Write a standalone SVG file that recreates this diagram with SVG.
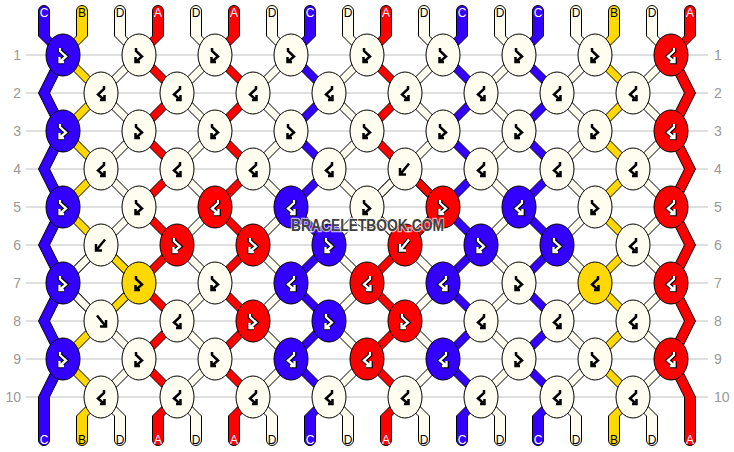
<svg xmlns="http://www.w3.org/2000/svg" xmlns:xlink="http://www.w3.org/1999/xlink" width="734" height="452" viewBox="0 0 734 452">
<style>
.grid{stroke:#c0c0c0;stroke-width:1}
.num{font-family:"Liberation Sans",Arial,sans-serif;font-size:14px;fill:#999}
.s{stroke:#000;stroke-width:1;stroke-linejoin:miter}
.sA{fill:#ff0000}.sB{fill:#ffd800}.sC{fill:#3300ff}.sD{fill:#fffcf0}
.k{stroke:#000;stroke-width:1}
.kA{fill:#ff0000}.kB{fill:#ffd800}.kC{fill:#3300ff}.kD{fill:#fffcf0}
.gb{fill:none;stroke:#000;stroke-width:2.5}
.go{fill:none;stroke:#000;stroke-width:4.6}
.gw{fill:none;stroke:#fff;stroke-width:2.3}
.lab{font-family:"Liberation Sans",Arial,sans-serif;font-size:12px;text-anchor:middle}
.lw{fill:#fff}.lk{fill:#000}
.wm{font-family:"Liberation Sans",Arial,sans-serif;font-weight:bold;font-size:17px;fill:#404040;stroke:#ffffff;stroke-opacity:0.7;stroke-width:2.5;paint-order:stroke}
</style>
<defs>
<path id="LO" d="M-5.5,11A5.5,5.5 0 0 1 5.5,11L5.5,36L24.5,55L-13.5,93L24.5,131L-13.5,169L24.5,207L-13.5,245L24.5,283L-13.5,321L24.5,359L-13.5,397L5.5,416L5.5,440A5.5,5.5 0 0 1 -5.5,440L-5.5,416L-24.5,397L13.5,359L-24.5,321L13.5,283L-24.5,245L13.5,207L-24.5,169L13.5,131L-24.5,93L13.5,55L-5.5,36Z"/>
<path id="LE" d="M-5.5,11A5.5,5.5 0 0 1 5.5,11L5.5,36L-13.5,55L24.5,93L-13.5,131L24.5,169L-13.5,207L24.5,245L-13.5,283L24.5,321L-13.5,359L24.5,397L5.5,416L5.5,440A5.5,5.5 0 0 1 -5.5,440L-5.5,416L13.5,397L-24.5,359L13.5,321L-24.5,283L13.5,245L-24.5,207L13.5,169L-24.5,131L13.5,93L-24.5,55L-5.5,36Z"/>
<path id="L1" d="M-5.5,11A5.5,5.5 0 0 1 5.5,11L5.5,36L24.5,55L5.5,93L24.5,131L5.5,169L24.5,207L5.5,245L24.5,283L5.5,321L24.5,359L5.5,397L5.5,440A5.5,5.5 0 0 1 -5.5,440L-5.5,397L13.5,359L-5.5,321L13.5,283L-5.5,245L13.5,207L-5.5,169L13.5,131L-5.5,93L13.5,55L-5.5,36Z"/>
<path id="L18" d="M-5.5,11A5.5,5.5 0 0 1 5.5,11L5.5,36L-13.5,55L5.5,93L-13.5,131L5.5,169L-13.5,207L5.5,245L-13.5,283L5.5,321L-13.5,359L5.5,397L5.5,440A5.5,5.5 0 0 1 -5.5,440L-5.5,397L-24.5,359L-5.5,321L-24.5,283L-5.5,245L-24.5,207L-5.5,169L-24.5,131L-5.5,93L-24.5,55L-5.5,36Z"/>
<path id="gFB" d="M-3,-7V-4L3,1.5L-3.5,7M-3.5,2V7H1"/>
<path id="gBF" d="M3,-7V-4L-3,1.5L3.5,7M3.5,2V7H-1"/>
<path id="gF" d="M-4,-5.5L4.5,5M5,-1V5.5H-1"/>
<path id="gB" d="M4,-5.5L-4.5,5M-5,-1V5.5H1"/>
<ellipse id="E" rx="17" ry="21"/>
</defs>
<rect width="734" height="452" fill="#fff"/>
<g id="grid">
<line class="grid" x1="26" y1="55" x2="708" y2="55"/>
<line class="grid" x1="26" y1="93" x2="708" y2="93"/>
<line class="grid" x1="26" y1="131" x2="708" y2="131"/>
<line class="grid" x1="26" y1="169" x2="708" y2="169"/>
<line class="grid" x1="26" y1="207" x2="708" y2="207"/>
<line class="grid" x1="26" y1="245" x2="708" y2="245"/>
<line class="grid" x1="26" y1="283" x2="708" y2="283"/>
<line class="grid" x1="26" y1="321" x2="708" y2="321"/>
<line class="grid" x1="26" y1="359" x2="708" y2="359"/>
<line class="grid" x1="26" y1="397" x2="708" y2="397"/>
</g>
<g id="rownumbers">
<text class="num" x="21" y="60" text-anchor="end">1</text>
<text class="num" x="21" y="98" text-anchor="end">2</text>
<text class="num" x="21" y="136" text-anchor="end">3</text>
<text class="num" x="21" y="174" text-anchor="end">4</text>
<text class="num" x="21" y="212" text-anchor="end">5</text>
<text class="num" x="21" y="250" text-anchor="end">6</text>
<text class="num" x="21" y="288" text-anchor="end">7</text>
<text class="num" x="21" y="326" text-anchor="end">8</text>
<text class="num" x="21" y="364" text-anchor="end">9</text>
<text class="num" x="21" y="402" text-anchor="end">10</text>
<text class="num" x="714" y="60">1</text>
<text class="num" x="714" y="98">2</text>
<text class="num" x="714" y="136">3</text>
<text class="num" x="714" y="174">4</text>
<text class="num" x="714" y="212">5</text>
<text class="num" x="714" y="250">6</text>
<text class="num" x="714" y="288">7</text>
<text class="num" x="714" y="326">8</text>
<text class="num" x="714" y="364">9</text>
<text class="num" x="714" y="402">10</text>
</g>
<g id="connectors">
<use href="#L1" x="44" class="s sC"/>
<use href="#LE" x="82" class="s sB"/>
<use href="#LO" x="120" class="s sD"/>
<use href="#LE" x="158" class="s sA"/>
<use href="#LO" x="196" class="s sD"/>
<use href="#LE" x="234" class="s sA"/>
<use href="#LO" x="272" class="s sD"/>
<use href="#LE" x="310" class="s sC"/>
<use href="#LO" x="348" class="s sD"/>
<use href="#LE" x="386" class="s sA"/>
<use href="#LO" x="424" class="s sD"/>
<use href="#LE" x="462" class="s sC"/>
<use href="#LO" x="500" class="s sD"/>
<use href="#LE" x="538" class="s sC"/>
<use href="#LO" x="576" class="s sD"/>
<use href="#LE" x="614" class="s sB"/>
<use href="#LO" x="652" class="s sD"/>
<use href="#L18" x="690" class="s sA"/>
<path class="s sD" d="M95.5,245L57.5,283L95.5,321L106.5,321L68.5,283L106.5,245Z"/>
<path class="s sB" d="M95.5,245L133.5,283L95.5,321L106.5,321L144.5,283L106.5,245Z"/>
<path class="s sD" d="M399.5,169L361.5,207L399.5,245L410.5,245L372.5,207L410.5,169Z"/>
<path class="s sA" d="M399.5,169L437.5,207L399.5,245L410.5,245L448.5,207L410.5,169Z"/>
</g>
<g id="knots">
<g id="k1-1" transform="translate(63,55)"><use href="#E" class="k kC"/><use href="#gFB" class="go"/><use href="#gFB" class="gw"/></g>
<g id="k1-2" transform="translate(139,55)"><use href="#E" class="k kD"/><use href="#gFB" class="gb"/></g>
<g id="k1-3" transform="translate(215,55)"><use href="#E" class="k kD"/><use href="#gFB" class="gb"/></g>
<g id="k1-4" transform="translate(291,55)"><use href="#E" class="k kD"/><use href="#gFB" class="gb"/></g>
<g id="k1-5" transform="translate(367,55)"><use href="#E" class="k kD"/><use href="#gFB" class="gb"/></g>
<g id="k1-6" transform="translate(443,55)"><use href="#E" class="k kD"/><use href="#gFB" class="gb"/></g>
<g id="k1-7" transform="translate(519,55)"><use href="#E" class="k kD"/><use href="#gFB" class="gb"/></g>
<g id="k1-8" transform="translate(595,55)"><use href="#E" class="k kD"/><use href="#gFB" class="gb"/></g>
<g id="k1-9" transform="translate(671,55)"><use href="#E" class="k kA"/><use href="#gBF" class="go"/><use href="#gBF" class="gw"/></g>

<g id="k2-1" transform="translate(101,93)"><use href="#E" class="k kD"/><use href="#gBF" class="gb"/></g>
<g id="k2-2" transform="translate(177,93)"><use href="#E" class="k kD"/><use href="#gBF" class="gb"/></g>
<g id="k2-3" transform="translate(253,93)"><use href="#E" class="k kD"/><use href="#gBF" class="gb"/></g>
<g id="k2-4" transform="translate(329,93)"><use href="#E" class="k kD"/><use href="#gBF" class="gb"/></g>
<g id="k2-5" transform="translate(405,93)"><use href="#E" class="k kD"/><use href="#gBF" class="gb"/></g>
<g id="k2-6" transform="translate(481,93)"><use href="#E" class="k kD"/><use href="#gBF" class="gb"/></g>
<g id="k2-7" transform="translate(557,93)"><use href="#E" class="k kD"/><use href="#gBF" class="gb"/></g>
<g id="k2-8" transform="translate(633,93)"><use href="#E" class="k kD"/><use href="#gBF" class="gb"/></g>

<g id="k3-1" transform="translate(63,131)"><use href="#E" class="k kC"/><use href="#gFB" class="go"/><use href="#gFB" class="gw"/></g>
<g id="k3-2" transform="translate(139,131)"><use href="#E" class="k kD"/><use href="#gFB" class="gb"/></g>
<g id="k3-3" transform="translate(215,131)"><use href="#E" class="k kD"/><use href="#gFB" class="gb"/></g>
<g id="k3-4" transform="translate(291,131)"><use href="#E" class="k kD"/><use href="#gFB" class="gb"/></g>
<g id="k3-5" transform="translate(367,131)"><use href="#E" class="k kD"/><use href="#gFB" class="gb"/></g>
<g id="k3-6" transform="translate(443,131)"><use href="#E" class="k kD"/><use href="#gFB" class="gb"/></g>
<g id="k3-7" transform="translate(519,131)"><use href="#E" class="k kD"/><use href="#gFB" class="gb"/></g>
<g id="k3-8" transform="translate(595,131)"><use href="#E" class="k kD"/><use href="#gFB" class="gb"/></g>
<g id="k3-9" transform="translate(671,131)"><use href="#E" class="k kA"/><use href="#gBF" class="go"/><use href="#gBF" class="gw"/></g>

<g id="k4-1" transform="translate(101,169)"><use href="#E" class="k kD"/><use href="#gBF" class="gb"/></g>
<g id="k4-2" transform="translate(177,169)"><use href="#E" class="k kD"/><use href="#gBF" class="gb"/></g>
<g id="k4-3" transform="translate(253,169)"><use href="#E" class="k kD"/><use href="#gBF" class="gb"/></g>
<g id="k4-4" transform="translate(329,169)"><use href="#E" class="k kD"/><use href="#gBF" class="gb"/></g>
<g id="k4-5" transform="translate(405,169)"><use href="#E" class="k kD"/><use href="#gB" class="gb"/></g>
<g id="k4-6" transform="translate(481,169)"><use href="#E" class="k kD"/><use href="#gBF" class="gb"/></g>
<g id="k4-7" transform="translate(557,169)"><use href="#E" class="k kD"/><use href="#gBF" class="gb"/></g>
<g id="k4-8" transform="translate(633,169)"><use href="#E" class="k kD"/><use href="#gBF" class="gb"/></g>

<g id="k5-1" transform="translate(63,207)"><use href="#E" class="k kC"/><use href="#gFB" class="go"/><use href="#gFB" class="gw"/></g>
<g id="k5-2" transform="translate(139,207)"><use href="#E" class="k kD"/><use href="#gFB" class="gb"/></g>
<g id="k5-3" transform="translate(215,207)"><use href="#E" class="k kA"/><use href="#gBF" class="go"/><use href="#gBF" class="gw"/></g>
<g id="k5-4" transform="translate(291,207)"><use href="#E" class="k kC"/><use href="#gBF" class="go"/><use href="#gBF" class="gw"/></g>
<g id="k5-5" transform="translate(367,207)"><use href="#E" class="k kD"/><use href="#gFB" class="gb"/></g>
<g id="k5-6" transform="translate(443,207)"><use href="#E" class="k kA"/><use href="#gFB" class="go"/><use href="#gFB" class="gw"/></g>
<g id="k5-7" transform="translate(519,207)"><use href="#E" class="k kC"/><use href="#gBF" class="go"/><use href="#gBF" class="gw"/></g>
<g id="k5-8" transform="translate(595,207)"><use href="#E" class="k kD"/><use href="#gFB" class="gb"/></g>
<g id="k5-9" transform="translate(671,207)"><use href="#E" class="k kA"/><use href="#gBF" class="go"/><use href="#gBF" class="gw"/></g>

<g id="k6-1" transform="translate(101,245)"><use href="#E" class="k kD"/><use href="#gB" class="gb"/></g>
<g id="k6-2" transform="translate(177,245)"><use href="#E" class="k kA"/><use href="#gFB" class="go"/><use href="#gFB" class="gw"/></g>
<g id="k6-3" transform="translate(253,245)"><use href="#E" class="k kA"/><use href="#gFB" class="go"/><use href="#gFB" class="gw"/></g>
<g id="k6-4" transform="translate(329,245)"><use href="#E" class="k kC"/><use href="#gFB" class="go"/><use href="#gFB" class="gw"/></g>
<g id="k6-5" transform="translate(405,245)"><use href="#E" class="k kA"/><use href="#gB" class="go"/><use href="#gB" class="gw"/></g>
<g id="k6-6" transform="translate(481,245)"><use href="#E" class="k kC"/><use href="#gFB" class="go"/><use href="#gFB" class="gw"/></g>
<g id="k6-7" transform="translate(557,245)"><use href="#E" class="k kC"/><use href="#gFB" class="go"/><use href="#gFB" class="gw"/></g>
<g id="k6-8" transform="translate(633,245)"><use href="#E" class="k kD"/><use href="#gBF" class="gb"/></g>

<g id="k7-1" transform="translate(63,283)"><use href="#E" class="k kC"/><use href="#gFB" class="go"/><use href="#gFB" class="gw"/></g>
<g id="k7-2" transform="translate(139,283)"><use href="#E" class="k kB"/><use href="#gFB" class="gb"/></g>
<g id="k7-3" transform="translate(215,283)"><use href="#E" class="k kD"/><use href="#gFB" class="gb"/></g>
<g id="k7-4" transform="translate(291,283)"><use href="#E" class="k kC"/><use href="#gBF" class="go"/><use href="#gBF" class="gw"/></g>
<g id="k7-5" transform="translate(367,283)"><use href="#E" class="k kA"/><use href="#gBF" class="go"/><use href="#gBF" class="gw"/></g>
<g id="k7-6" transform="translate(443,283)"><use href="#E" class="k kC"/><use href="#gBF" class="go"/><use href="#gBF" class="gw"/></g>
<g id="k7-7" transform="translate(519,283)"><use href="#E" class="k kD"/><use href="#gFB" class="gb"/></g>
<g id="k7-8" transform="translate(595,283)"><use href="#E" class="k kB"/><use href="#gBF" class="gb"/></g>
<g id="k7-9" transform="translate(671,283)"><use href="#E" class="k kA"/><use href="#gBF" class="go"/><use href="#gBF" class="gw"/></g>

<g id="k8-1" transform="translate(101,321)"><use href="#E" class="k kD"/><use href="#gF" class="gb"/></g>
<g id="k8-2" transform="translate(177,321)"><use href="#E" class="k kD"/><use href="#gBF" class="gb"/></g>
<g id="k8-3" transform="translate(253,321)"><use href="#E" class="k kA"/><use href="#gFB" class="go"/><use href="#gFB" class="gw"/></g>
<g id="k8-4" transform="translate(329,321)"><use href="#E" class="k kC"/><use href="#gFB" class="go"/><use href="#gFB" class="gw"/></g>
<g id="k8-5" transform="translate(405,321)"><use href="#E" class="k kA"/><use href="#gFB" class="go"/><use href="#gFB" class="gw"/></g>
<g id="k8-6" transform="translate(481,321)"><use href="#E" class="k kD"/><use href="#gBF" class="gb"/></g>
<g id="k8-7" transform="translate(557,321)"><use href="#E" class="k kD"/><use href="#gBF" class="gb"/></g>
<g id="k8-8" transform="translate(633,321)"><use href="#E" class="k kD"/><use href="#gBF" class="gb"/></g>

<g id="k9-1" transform="translate(63,359)"><use href="#E" class="k kC"/><use href="#gFB" class="go"/><use href="#gFB" class="gw"/></g>
<g id="k9-2" transform="translate(139,359)"><use href="#E" class="k kD"/><use href="#gFB" class="gb"/></g>
<g id="k9-3" transform="translate(215,359)"><use href="#E" class="k kD"/><use href="#gFB" class="gb"/></g>
<g id="k9-4" transform="translate(291,359)"><use href="#E" class="k kC"/><use href="#gBF" class="go"/><use href="#gBF" class="gw"/></g>
<g id="k9-5" transform="translate(367,359)"><use href="#E" class="k kA"/><use href="#gBF" class="go"/><use href="#gBF" class="gw"/></g>
<g id="k9-6" transform="translate(443,359)"><use href="#E" class="k kC"/><use href="#gBF" class="go"/><use href="#gBF" class="gw"/></g>
<g id="k9-7" transform="translate(519,359)"><use href="#E" class="k kD"/><use href="#gFB" class="gb"/></g>
<g id="k9-8" transform="translate(595,359)"><use href="#E" class="k kD"/><use href="#gFB" class="gb"/></g>
<g id="k9-9" transform="translate(671,359)"><use href="#E" class="k kA"/><use href="#gBF" class="go"/><use href="#gBF" class="gw"/></g>

<g id="k10-1" transform="translate(101,397)"><use href="#E" class="k kD"/><use href="#gBF" class="gb"/></g>
<g id="k10-2" transform="translate(177,397)"><use href="#E" class="k kD"/><use href="#gBF" class="gb"/></g>
<g id="k10-3" transform="translate(253,397)"><use href="#E" class="k kD"/><use href="#gBF" class="gb"/></g>
<g id="k10-4" transform="translate(329,397)"><use href="#E" class="k kD"/><use href="#gBF" class="gb"/></g>
<g id="k10-5" transform="translate(405,397)"><use href="#E" class="k kD"/><use href="#gBF" class="gb"/></g>
<g id="k10-6" transform="translate(481,397)"><use href="#E" class="k kD"/><use href="#gBF" class="gb"/></g>
<g id="k10-7" transform="translate(557,397)"><use href="#E" class="k kD"/><use href="#gBF" class="gb"/></g>
<g id="k10-8" transform="translate(633,397)"><use href="#E" class="k kD"/><use href="#gBF" class="gb"/></g>
</g>
<g id="labels-top">
<text class="lab lw" x="44" y="17">C</text>
<text class="lab lk" x="82" y="17">B</text>
<text class="lab lk" x="120" y="17">D</text>
<text class="lab lw" x="158" y="17">A</text>
<text class="lab lk" x="196" y="17">D</text>
<text class="lab lw" x="234" y="17">A</text>
<text class="lab lk" x="272" y="17">D</text>
<text class="lab lw" x="310" y="17">C</text>
<text class="lab lk" x="348" y="17">D</text>
<text class="lab lw" x="386" y="17">A</text>
<text class="lab lk" x="424" y="17">D</text>
<text class="lab lw" x="462" y="17">C</text>
<text class="lab lk" x="500" y="17">D</text>
<text class="lab lw" x="538" y="17">C</text>
<text class="lab lk" x="576" y="17">D</text>
<text class="lab lk" x="614" y="17">B</text>
<text class="lab lk" x="652" y="17">D</text>
<text class="lab lw" x="690" y="17">A</text>
</g>
<g id="labels-bottom">
<text class="lab lw" x="44" y="444">C</text>
<text class="lab lk" x="82" y="444">B</text>
<text class="lab lk" x="120" y="444">D</text>
<text class="lab lw" x="158" y="444">A</text>
<text class="lab lk" x="196" y="444">D</text>
<text class="lab lw" x="234" y="444">A</text>
<text class="lab lk" x="272" y="444">D</text>
<text class="lab lw" x="310" y="444">C</text>
<text class="lab lk" x="348" y="444">D</text>
<text class="lab lw" x="386" y="444">A</text>
<text class="lab lk" x="424" y="444">D</text>
<text class="lab lw" x="462" y="444">C</text>
<text class="lab lk" x="500" y="444">D</text>
<text class="lab lw" x="538" y="444">C</text>
<text class="lab lk" x="576" y="444">D</text>
<text class="lab lk" x="614" y="444">B</text>
<text class="lab lk" x="652" y="444">D</text>
<text class="lab lw" x="690" y="444">A</text>
</g>
<text id="watermark" class="wm" x="291" y="231" textLength="153" lengthAdjust="spacingAndGlyphs">BRACELETBOOK.COM</text>
</svg>
